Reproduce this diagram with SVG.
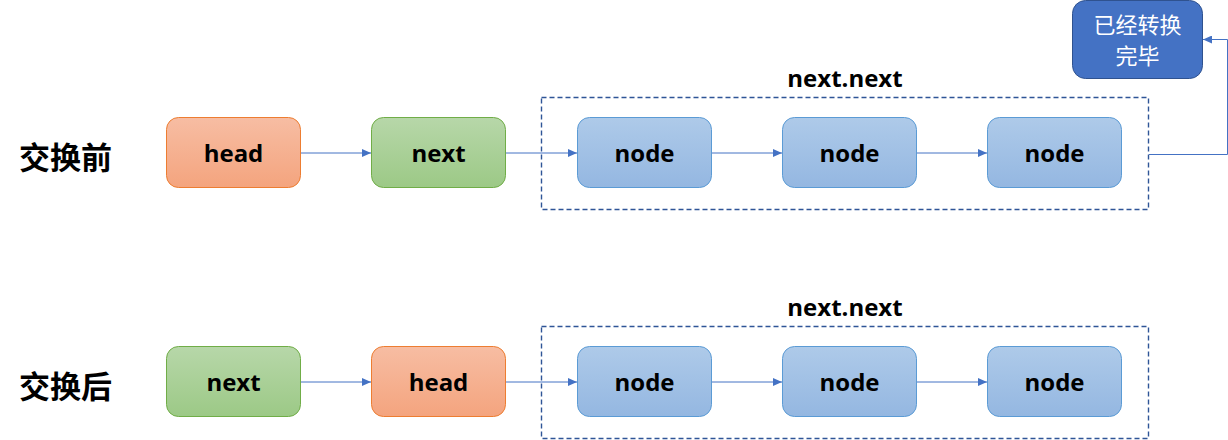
<svg xmlns="http://www.w3.org/2000/svg" width="1228" height="440" viewBox="0 0 1228 440">
<defs>
<linearGradient id="gOrange" x1="0" y1="0" x2="0" y2="1"><stop offset="0" stop-color="#F7BDA3"/><stop offset="1" stop-color="#F4A47E"/></linearGradient>
<linearGradient id="gGreen" x1="0" y1="0" x2="0" y2="1"><stop offset="0" stop-color="#B7D7A9"/><stop offset="1" stop-color="#9CC986"/></linearGradient>
<linearGradient id="gBlue" x1="0" y1="0" x2="0" y2="1"><stop offset="0" stop-color="#AECAE9"/><stop offset="1" stop-color="#94B7E1"/></linearGradient>
<marker id="arr" markerWidth="10" markerHeight="8" refX="9" refY="4" orient="auto" markerUnits="userSpaceOnUse"><path d="M0,0 L9,4 L0,8 Z" fill="#4472C4"/></marker>
<style>
.orange{fill:url(#gOrange);stroke:#ED7D31;stroke-width:1}
.green{fill:url(#gGreen);stroke:#70AD47;stroke-width:1}
.blue{fill:url(#gBlue);stroke:#5B9BD5;stroke-width:1}
.dark{fill:#4472C4;stroke:#2F528F;stroke-width:1}
.lbl{font-family:"Open Sans","Noto Sans",sans-serif;font-weight:bold;font-size:24px;fill:#000;text-anchor:middle;dominant-baseline:central}
.cn{font-family:"Noto Sans CJK SC",sans-serif;font-weight:bold;font-size:31px;fill:#000;dominant-baseline:central}
.wt{font-family:"Noto Sans CJK SC",sans-serif;font-size:22px;fill:#fff;text-anchor:middle;dominant-baseline:central}
.box{fill:none;stroke:#2F5597;stroke-width:1.4;stroke-dasharray:5,3}
.con{fill:none;stroke:#4472C4;stroke-width:1;marker-end:url(#arr)}
</style>
</defs>
<g id="labels">
<text class="cn" x="19" y="155">交换前</text>
<text class="cn" x="19" y="384">交换后</text>
<text class="lbl" x="845" y="77">next.next</text>
<text class="lbl" x="845" y="306">next.next</text>
</g>
<g id="groups">
<rect class="box" x="541.5" y="97.5" width="607" height="112"/>
<rect class="box" x="541.5" y="326.5" width="607" height="112"/>
</g>
<g id="connectors">
<line class="con" x1="301" y1="153" x2="371" y2="153"/>
<line class="con" x1="506" y1="153" x2="577" y2="153"/>
<line class="con" x1="712" y1="153" x2="782" y2="153"/>
<line class="con" x1="917" y1="153" x2="987" y2="153"/>
<polyline class="con" points="1149,154.5 1227.5,154.5 1227.5,39.5 1203,39.5"/>
<line class="con" x1="301" y1="382" x2="371" y2="382"/>
<line class="con" x1="506" y1="382" x2="577" y2="382"/>
<line class="con" x1="712" y1="382" x2="782" y2="382"/>
<line class="con" x1="917" y1="382" x2="987" y2="382"/>
</g>
<g id="top-head"><rect class="orange" x="166.5" y="117.5" width="134" height="70" rx="12"/><text class="lbl" x="233.5" y="152">head</text></g>
<g id="top-next"><rect class="green" x="371.5" y="117.5" width="134" height="70" rx="12"/><text class="lbl" x="438.5" y="152">next</text></g>
<g id="top-node1"><rect class="blue" x="577.5" y="117.5" width="134" height="70" rx="12"/><text class="lbl" x="644.5" y="152">node</text></g>
<g id="top-node2"><rect class="blue" x="782.5" y="117.5" width="134" height="70" rx="12"/><text class="lbl" x="849.5" y="152">node</text></g>
<g id="top-node3"><rect class="blue" x="987.5" y="117.5" width="134" height="70" rx="12"/><text class="lbl" x="1054.5" y="152">node</text></g>
<g id="done"><rect class="dark" x="1072.5" y="0.5" width="130" height="78" rx="13"/><text class="wt" x="1137.5" y="23">已经转换</text><text class="wt" x="1137.5" y="54">完毕</text></g>
<g id="bot-next"><rect class="green" x="166.5" y="346.5" width="134" height="70" rx="12"/><text class="lbl" x="233.5" y="381">next</text></g>
<g id="bot-head"><rect class="orange" x="371.5" y="346.5" width="134" height="70" rx="12"/><text class="lbl" x="438.5" y="381">head</text></g>
<g id="bot-node1"><rect class="blue" x="577.5" y="346.5" width="134" height="70" rx="12"/><text class="lbl" x="644.5" y="381">node</text></g>
<g id="bot-node2"><rect class="blue" x="782.5" y="346.5" width="134" height="70" rx="12"/><text class="lbl" x="849.5" y="381">node</text></g>
<g id="bot-node3"><rect class="blue" x="987.5" y="346.5" width="134" height="70" rx="12"/><text class="lbl" x="1054.5" y="381">node</text></g>
</svg>
